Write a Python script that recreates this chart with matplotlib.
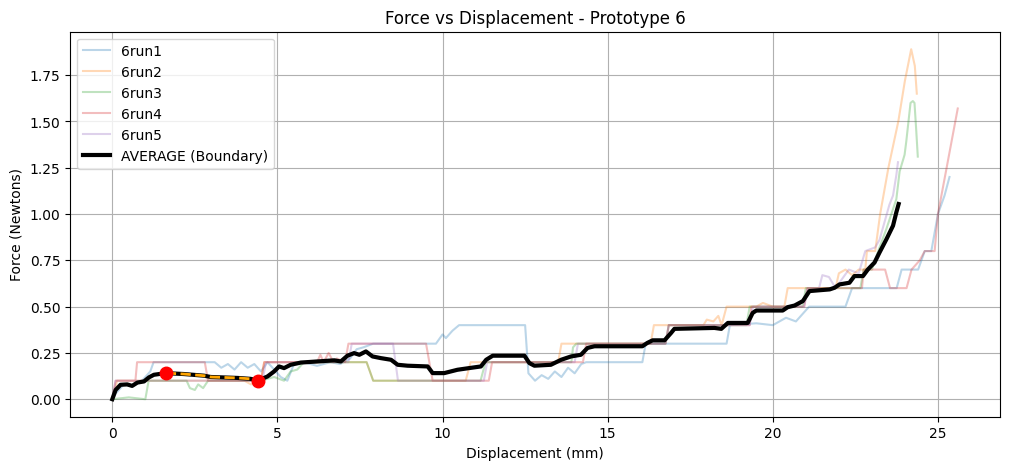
import numpy as np
import matplotlib
matplotlib.use("Agg")
import matplotlib.pyplot as plt

# run data (displacement mm, force N)
run1_x = [0, 0.1, 0.35, 0.6, 0.9, 1.15, 1.25, 3.1, 3.3, 3.5, 3.7, 3.9, 4.1, 4.3, 4.5, 4.7,
          4.9, 5.1, 5.3, 5.5, 5.8, 6.2, 6.6, 6.9, 7.2, 7.4, 7.6, 7.9, 9.8, 10.0, 10.1, 10.3,
          10.5, 12.5, 12.6, 12.8, 13.0, 13.2, 13.4, 13.6, 13.8, 14.0, 14.2, 14.35, 16.05,
          16.15, 18.6, 18.7, 19.5, 20.0, 20.4, 20.7, 20.9, 21.1, 22.2, 22.4, 23.75, 23.9,
          24.4, 24.6, 24.8, 25.0, 25.2, 25.35]
run1_y = [0, 0.03, 0.08, 0.07, 0.1, 0.15, 0.2, 0.2, 0.17, 0.19, 0.16, 0.2, 0.17, 0.19, 0.15, 0.2,
          0.16, 0.12, 0.1, 0.19, 0.2, 0.18, 0.2, 0.19, 0.22, 0.27, 0.28, 0.3, 0.3, 0.35, 0.33, 0.37,
          0.4, 0.4, 0.14, 0.1, 0.13, 0.11, 0.15, 0.12, 0.17, 0.14, 0.19, 0.2, 0.2,
          0.3, 0.3, 0.4, 0.41, 0.4, 0.44, 0.42, 0.46, 0.5, 0.5, 0.6, 0.6, 0.7,
          0.7, 0.8, 0.8, 1.0, 1.1, 1.2]

run2_x = [0, 0.15, 4.0, 4.2, 4.4, 4.5, 4.6, 7.7, 7.9, 10.7, 10.85, 13.5, 13.6, 16.3, 16.4,
          17.9, 18.0, 18.2, 18.35, 18.45, 18.6, 19.5, 19.7, 20.0, 20.35, 20.45, 21.9, 22.0,
          22.2, 22.4, 22.6, 22.8, 22.85, 23.1, 23.25, 23.5, 23.8, 24.0, 24.19, 24.3, 24.36]
run2_y = [0, 0.1, 0.1, 0.08, 0.1, 0.1, 0.2, 0.2, 0.1, 0.1, 0.2, 0.2, 0.3, 0.3, 0.4,
          0.4, 0.43, 0.42, 0.45, 0.4, 0.5, 0.5, 0.52, 0.5, 0.5, 0.6, 0.6, 0.68,
          0.7, 0.67, 0.7, 0.7, 0.8, 0.8, 1.0, 1.25, 1.5, 1.72, 1.89, 1.8, 1.65]

run3_x = [0, 0.5, 1.0, 1.1, 2.25, 2.35, 2.5, 2.6, 2.75, 2.9, 4.5, 4.9, 5.2, 5.4, 5.6, 5.8,
          7.7, 7.9, 11.15, 11.3, 13.9, 13.95, 14.05, 16.75, 16.85, 19.2, 19.3, 20.9, 21.0,
          22.65, 22.75, 23.0, 23.15, 23.44, 23.74, 23.84, 23.99, 24.04, 24.17, 24.24, 24.29,
          24.34, 24.39]
run3_y = [0, 0.01, 0.0, 0.1, 0.1, 0.06, 0.05, 0.08, 0.06, 0.1, 0.1, 0.12, 0.1, 0.15, 0.16, 0.2,
          0.2, 0.1, 0.1, 0.2, 0.2, 0.28, 0.3, 0.3, 0.4, 0.4, 0.5, 0.5, 0.6,
          0.6, 0.7, 0.7, 0.78, 0.92, 1.08, 1.23, 1.32, 1.39, 1.6, 1.61, 1.6,
          1.46, 1.31]

run4_x = [0, 0.1, 0.7, 0.75, 2.8, 2.9, 4.5, 4.6, 6.2, 6.3, 6.4, 6.55, 6.7, 6.8, 7.05, 7.15,
          9.5, 9.7, 11.4, 11.5, 14.25, 14.35, 16.75, 16.85, 19.3, 19.35, 20.95, 21.05, 22.7,
          22.75, 23.4, 23.55, 24.05, 24.2, 24.45, 24.6, 24.9, 25.0, 25.6]
run4_y = [0, 0.1, 0.1, 0.2, 0.2, 0.1, 0.1, 0.2, 0.2, 0.24, 0.2, 0.25, 0.2, 0.22, 0.2, 0.3,
          0.3, 0.1, 0.1, 0.2, 0.2, 0.3, 0.3, 0.4, 0.4, 0.5, 0.5, 0.6, 0.6,
          0.7, 0.7, 0.6, 0.6, 0.7, 0.75, 0.8, 0.8, 1.0, 1.57]

run5_x = [0, 0.1, 4.55, 4.65, 7.15, 7.25, 8.5, 8.65, 11.25, 11.35, 14.0, 14.1, 16.75, 16.85,
          19.3, 19.4, 20.95, 21.05, 21.4, 21.5, 21.7, 21.9, 22.1, 22.3, 22.6, 22.8, 23.1,
          23.23, 23.53, 23.64, 23.74, 23.79]
run5_y = [0, 0.1, 0.1, 0.2, 0.2, 0.3, 0.3, 0.1, 0.1, 0.2, 0.2, 0.3, 0.3, 0.4,
          0.4, 0.5, 0.5, 0.6, 0.6, 0.67, 0.66, 0.6, 0.65, 0.7, 0.68, 0.8, 0.82,
          0.86, 1.05, 1.1, 1.21, 1.28]

# average (boundary) curve
avg_x = [0, 0.1, 0.25, 0.45, 0.6, 0.76, 0.96, 1.11, 1.26, 1.62, 2.17, 2.78, 2.98, 3.79, 4.19,
         4.42, 4.7, 4.9, 5.05, 5.2, 5.4, 5.71, 6.21, 6.72, 6.92, 7.12, 7.32, 7.48, 7.68, 7.88,
         8.13, 8.44, 8.64, 8.94, 9.55, 9.7, 10.05, 10.25, 10.45, 10.8, 11.16, 11.32, 11.52,
         12.48, 12.63, 12.78, 13.28, 13.59, 13.89, 14.19, 14.39, 14.6, 16.05, 16.2, 16.36,
         16.72, 16.92, 17.02, 18.23, 18.44, 18.64, 19.24, 19.39, 19.5, 20.3, 20.45, 20.66,
         20.91, 21.11, 21.72, 21.87, 22.02, 22.32, 22.47, 22.73, 22.88, 23.08, 23.23, 23.44,
         23.64, 23.74, 23.81]
avg_y = [0, 0.05, 0.078, 0.08, 0.072, 0.09, 0.096, 0.118, 0.132, 0.141, 0.136, 0.127, 0.12, 0.115, 0.11,
         0.101, 0.123, 0.15, 0.177, 0.168, 0.186, 0.198, 0.204, 0.21, 0.204, 0.235, 0.249, 0.24, 0.258, 0.231,
         0.222, 0.213, 0.186, 0.181, 0.177, 0.141, 0.141, 0.15, 0.159, 0.168, 0.177, 0.213, 0.235,
         0.235, 0.195, 0.181, 0.186, 0.213, 0.231, 0.24, 0.277, 0.286, 0.286, 0.304, 0.318,
         0.318, 0.358, 0.38, 0.385, 0.38, 0.412, 0.412, 0.466, 0.479, 0.479, 0.497, 0.506,
         0.53, 0.584, 0.593, 0.602, 0.62, 0.629, 0.665, 0.665, 0.701, 0.738, 0.792, 0.864,
         0.937, 1.009, 1.054]

# highlighted section bounds
seg_start = 1.62
seg_end = 4.42

runs = [("6run1", run1_x, run1_y), ("6run2", run2_x, run2_y), ("6run3", run3_x, run3_y),
        ("6run4", run4_x, run4_y), ("6run5", run5_x, run5_y)]

fig, ax = plt.subplots(figsize=(12, 5))

for name, xs, ys in runs:
    ax.plot(xs, ys, alpha=0.3, label=name)

ax.plot(avg_x, avg_y, color='black', linewidth=3, label="AVERAGE (Boundary)")

# section between the two points
avg_x_arr = np.array(avg_x)
avg_y_arr = np.array(avg_y)
sel = (avg_x_arr >= seg_start) & (avg_x_arr <= seg_end)
ax.plot(avg_x_arr[sel], avg_y_arr[sel], color='orange', linestyle='--', linewidth=2)
ax.plot(avg_x_arr[sel][[0, -1]], avg_y_arr[sel][[0, -1]], 'o', color='red', markersize=9,
        linestyle='none')

ax.set_title("Force vs Displacement - Prototype 6")
ax.set_xlabel("Displacement (mm)")
ax.set_ylabel("Force (Newtons)")
ax.grid(True)
ax.legend(loc='upper left')

plt.savefig("out.png", dpi=100, bbox_inches='tight')
